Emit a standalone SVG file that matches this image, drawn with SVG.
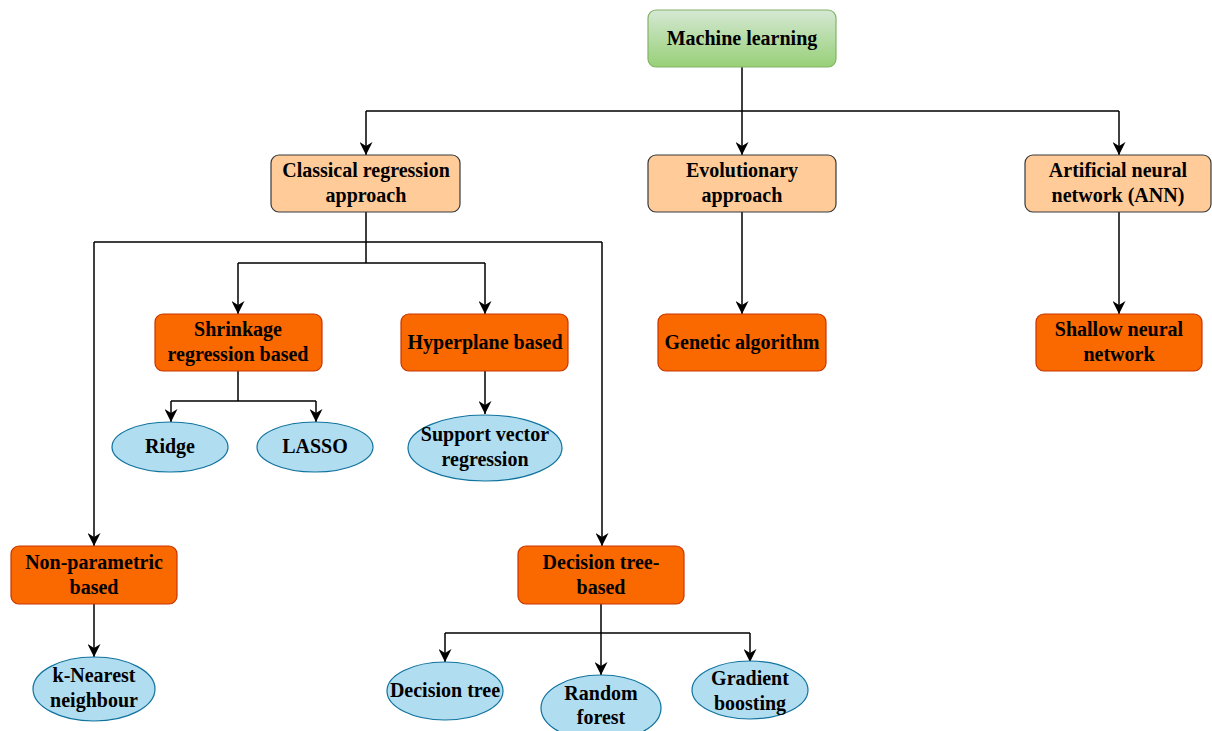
<svg xmlns="http://www.w3.org/2000/svg" width="1212" height="731" viewBox="0 0 1212 731">
  <defs>
    <linearGradient id="gGreen" x1="0" y1="0" x2="0" y2="1">
      <stop offset="0" stop-color="#d5e8d4"/>
      <stop offset="1" stop-color="#97d077"/>
    </linearGradient>
    <marker id="arr" viewBox="0 0 10 10" refX="10" refY="5" markerWidth="13" markerHeight="13" markerUnits="userSpaceOnUse" orient="auto">
      <path d="M0,0 L10,5 L0,10 L3,5 Z" fill="#000"/>
    </marker>
  </defs>
  <style>
    .lbl { font-family: "Liberation Serif", "Times New Roman", serif; font-weight: bold; font-size: 20px; fill: #000; text-anchor: middle; }
    .root { fill: url(#gGreen); stroke: #82b366; stroke-width: 1.2; }
    .cat { fill: #ffcc99; stroke: #36393d; stroke-width: 1.2; }
    .sub { fill: #fa6800; stroke: #c73500; stroke-width: 1.2; }
    .leaf { fill: #b1ddf0; stroke: #10739e; stroke-width: 1.2; }
    .edge { fill: none; stroke: #000; stroke-width: 1.5; }
    .edge-a { fill: none; stroke: #000; stroke-width: 1.5; marker-end: url(#arr); }
  </style>
  <rect width="1212" height="731" fill="#fff"/>

  <!-- connectors -->
  <g id="connectors">
    <path class="edge" d="M742,67 V111 M366,111 H1119"/>
    <path class="edge-a" d="M366,111 V155"/>
    <path class="edge-a" d="M742,111 V155"/>
    <path class="edge-a" d="M1119,111 V155"/>

    <path class="edge" d="M366,212 V263 M94,242 H602 M238,263 H485"/>
    <path class="edge-a" d="M238,263 V314"/>
    <path class="edge-a" d="M485,263 V314"/>
    <path class="edge-a" d="M94,242 V546"/>
    <path class="edge-a" d="M602,242 V546"/>

    <path class="edge" d="M238,371 V401 M171,401 H316"/>
    <path class="edge-a" d="M171,401 V422"/>
    <path class="edge-a" d="M316,401 V422"/>
    <path class="edge-a" d="M485,371 V414"/>

    <path class="edge-a" d="M742,212 V314"/>
    <path class="edge-a" d="M1119,212 V314"/>

    <path class="edge-a" d="M94,604 V657"/>

    <path class="edge" d="M601,604 V633 M445,633 H750"/>
    <path class="edge-a" d="M445,633 V662"/>
    <path class="edge-a" d="M601,633 V675"/>
    <path class="edge-a" d="M750,633 V662"/>
  </g>

  <!-- nodes -->
  <g id="machine-learning">
    <rect class="root" x="648" y="10" width="188" height="57" rx="8"/>
    <text class="lbl" x="742" y="45">Machine learning</text>
  </g>

  <g id="classical">
    <rect class="cat" x="271" y="155" width="189" height="57" rx="8"/>
    <text class="lbl" x="366" y="177">Classical regression</text>
    <text class="lbl" x="366" y="202">approach</text>
  </g>
  <g id="evolutionary">
    <rect class="cat" x="648" y="155" width="188" height="57" rx="8"/>
    <text class="lbl" x="742" y="177">Evolutionary</text>
    <text class="lbl" x="742" y="202">approach</text>
  </g>
  <g id="ann">
    <rect class="cat" x="1025" y="155" width="186" height="57" rx="8"/>
    <text class="lbl" x="1118" y="177">Artificial neural</text>
    <text class="lbl" x="1118" y="202">network (ANN)</text>
  </g>

  <g id="shrinkage">
    <rect class="sub" x="155" y="314" width="167" height="57" rx="8"/>
    <text class="lbl" x="238" y="336">Shrinkage</text>
    <text class="lbl" x="238" y="361">regression based</text>
  </g>
  <g id="hyperplane">
    <rect class="sub" x="401" y="314" width="167" height="57" rx="8"/>
    <text class="lbl" x="485" y="349">Hyperplane based</text>
  </g>
  <g id="genetic">
    <rect class="sub" x="658" y="314" width="168" height="57" rx="8"/>
    <text class="lbl" x="742" y="349">Genetic algorithm</text>
  </g>
  <g id="shallow">
    <rect class="sub" x="1036" y="314" width="166" height="57" rx="8"/>
    <text class="lbl" x="1119" y="336">Shallow neural</text>
    <text class="lbl" x="1119" y="361">network</text>
  </g>

  <g id="ridge">
    <ellipse class="leaf" cx="170" cy="447" rx="58" ry="25"/>
    <text class="lbl" x="170" y="453">Ridge</text>
  </g>
  <g id="lasso">
    <ellipse class="leaf" cx="315" cy="447" rx="58" ry="25"/>
    <text class="lbl" x="315" y="453">LASSO</text>
  </g>
  <g id="svr">
    <ellipse class="leaf" cx="485" cy="448" rx="77" ry="33"/>
    <text class="lbl" x="485" y="441">Support vector</text>
    <text class="lbl" x="485" y="466">regression</text>
  </g>

  <g id="nonparametric">
    <rect class="sub" x="11" y="546" width="166" height="58" rx="8"/>
    <text class="lbl" x="94" y="569">Non-parametric</text>
    <text class="lbl" x="94" y="594">based</text>
  </g>
  <g id="decision-tree-based">
    <rect class="sub" x="518" y="546" width="166" height="58" rx="8"/>
    <text class="lbl" x="601" y="569">Decision tree-</text>
    <text class="lbl" x="601" y="594">based</text>
  </g>

  <g id="knn">
    <ellipse class="leaf" cx="94" cy="689" rx="61" ry="32"/>
    <text class="lbl" x="94" y="682">k-Nearest</text>
    <text class="lbl" x="94" y="707">neighbour</text>
  </g>
  <g id="decision-tree">
    <ellipse class="leaf" cx="445" cy="691" rx="58" ry="29"/>
    <text class="lbl" x="445" y="697">Decision tree</text>
  </g>
  <g id="random-forest">
    <ellipse class="leaf" cx="601" cy="708" rx="60" ry="33"/>
    <text class="lbl" x="601" y="700">Random</text>
    <text class="lbl" x="601" y="724">forest</text>
  </g>
  <g id="gradient-boosting">
    <ellipse class="leaf" cx="750" cy="690" rx="58" ry="29"/>
    <text class="lbl" x="750" y="685">Gradient</text>
    <text class="lbl" x="750" y="710">boosting</text>
  </g>
</svg>
